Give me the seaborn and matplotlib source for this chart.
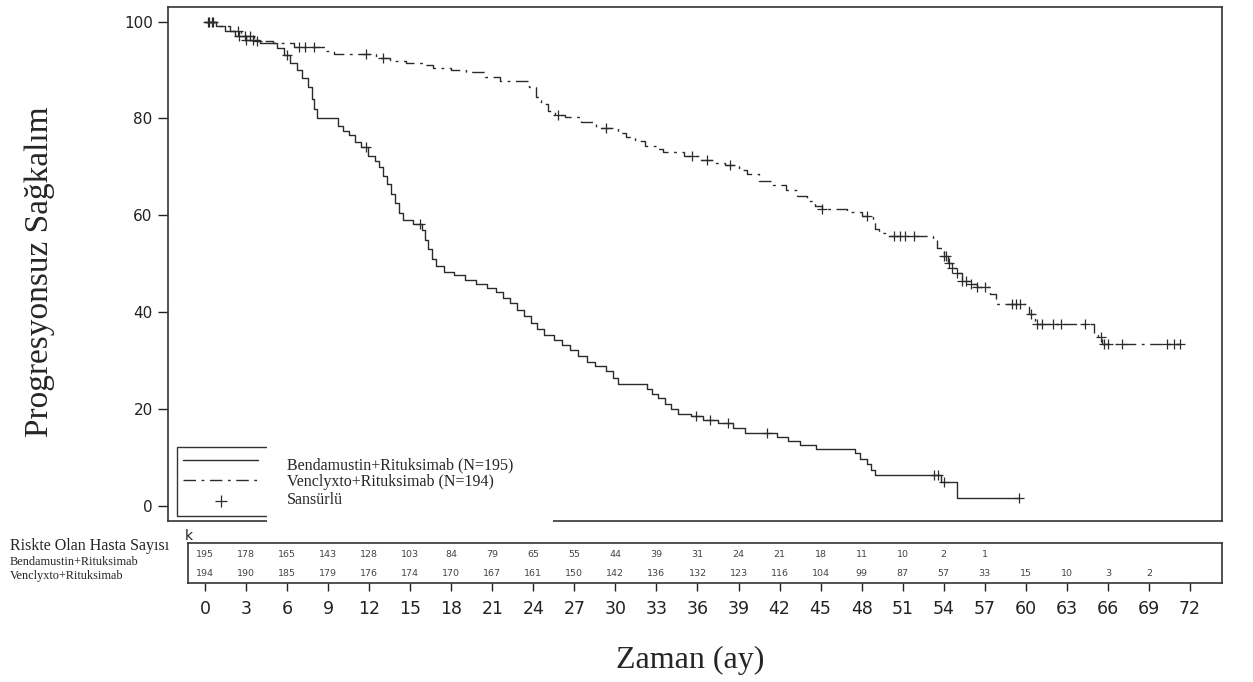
import numpy as np
import pandas as pd
import matplotlib
matplotlib.use("Agg")
import matplotlib.pyplot as plt
from matplotlib.lines import Line2D
from matplotlib.patches import Rectangle
import seaborn as sns

# Kaplan-Meier steps (time in months, PFS in %)
br_time = [0, 0.8, 1.5, 2.2, 3.0, 4.0, 5.3, 5.8, 6.2, 6.7, 7.1, 7.5, 7.8, 8.0, 8.2,
           9.7, 10.1, 10.5, 11.0, 11.4, 11.9, 12.4, 12.7, 13.0, 13.3, 13.6, 13.9, 14.2,
           14.5, 15.2, 15.9, 16.1, 16.3, 16.6, 16.9, 17.5, 18.2, 19.0, 19.8, 20.6, 21.3,
           21.8, 22.3, 22.8, 23.3, 23.8, 24.3, 24.8, 25.5, 26.1, 26.7, 27.3, 27.9, 28.5,
           29.3, 29.8, 30.2, 32.3, 32.7, 33.1, 33.6, 34.1, 34.6, 35.5, 36.4, 37.5, 38.6,
           39.5, 41.8, 42.6, 43.5, 44.7, 47.5, 47.9, 48.4, 48.7, 49.0, 53.8, 55.0]
br_surv = [100, 99, 98, 97, 96.2, 95.5, 94.5, 93, 91.5, 90, 88.4, 86.4, 84, 82, 80,
           78.5, 77.5, 76.5, 75.2, 74, 72.3, 71.2, 70.0, 68.2, 66.5, 64.5, 62.5, 60.5,
           59.0, 58.3, 57.0, 55, 53, 51, 49.5, 48.3, 47.6, 46.7, 45.8, 45.0, 44.2,
           43.0, 41.8, 40.5, 39.2, 37.8, 36.5, 35.2, 34.2, 33.3, 32.2, 31.0, 29.8, 28.8,
           27.8, 26.5, 25.1, 24.2, 23.2, 22.2, 21.0, 20.0, 19.0, 18.6, 17.8, 17.2, 16.2,
           15.0, 14.2, 13.4, 12.6, 11.7, 11.0, 9.8, 8.6, 7.5, 6.4, 5.0, 1.7]
br_cens = [0.3, 0.6, 2.5, 3.0, 3.5, 6.0, 11.8, 15.7, 35.9, 36.9, 38.2, 41.1,
           53.3, 53.6, 54.0, 59.5]

vr_time = [0, 1.0, 1.8, 2.6, 3.6, 5.0, 6.5, 8.8, 9.4, 12.5, 13.5, 14.7, 16.0, 16.7,
           18.0, 19.1, 20.5, 21.6, 23.7, 24.2, 24.6, 25.1, 25.6, 26.3, 27.5, 28.6, 30.2,
           30.8, 31.4, 32.2, 33.0, 33.5, 35.0, 36.2, 37.3, 38.0, 39.0, 39.6, 40.5, 41.5,
           42.5, 43.3, 44.0, 44.6, 45.1, 46.9, 48.0, 48.8, 49.0, 49.3, 49.8, 53.2, 53.5,
           54.0, 54.3, 54.6, 54.9, 55.3, 56.0, 56.4, 57.4, 57.8, 60.2, 60.7, 65.0, 65.3,
           65.6]
vr_surv = [100, 99, 98, 97, 96, 95.5, 94.7, 94.0, 93.3, 92.4, 91.9, 91.5, 91.0, 90.5,
           90.0, 89.5, 88.6, 87.8, 86.4, 84.5, 83.0, 81.6, 80.8, 80.2, 79.2, 78.1, 77.0,
           76.2, 75.4, 74.4, 73.6, 73.0, 72.3, 71.5, 70.9, 70.3, 69.4, 68.5, 67.1, 66.3,
           65.3, 64.0, 63.0, 62.0, 61.3, 60.6, 59.9, 58.5, 57.2, 56.4, 55.7, 55.0, 53.3,
           51.5, 50.2, 49.2, 48.0, 46.5, 45.8, 45.1, 43.7, 41.7, 39.6, 37.6, 35.5, 34.8,
           33.4]
vr_cens = [0.2, 0.5, 2.4, 2.9, 3.3, 3.8, 6.9, 7.3, 8.0, 11.8, 13.0, 25.8, 29.3, 35.6,
           36.7, 38.4, 45.1, 48.4, 50.4, 50.8, 51.2, 51.8, 54.0, 54.2, 54.4, 54.6, 55.0,
           55.3, 55.6, 56.0, 56.4, 57.0, 59.0, 59.3, 59.6, 60.4, 60.8, 61.2, 62.0, 62.6,
           64.3, 65.5, 65.7, 66.0, 67.0, 70.3, 70.8, 71.3]

risk_times = list(range(0, 73, 3))
br_risk = [195, 178, 165, 143, 128, 103, 84, 79, 65, 55, 44, 39, 31, 24, 21, 18, 11, 10, 2, 1]
vr_risk = [194, 190, 185, 179, 176, 174, 170, 167, 161, 150, 142, 136, 132, 123, 116, 104,
           99, 87, 57, 33, 15, 10, 3, 2]

labels = ["Bendamustin+Rituksimab (N=195)", "Venclyxto+Rituksimab (N=194)", "Sansürlü"]


def curve_df(t, s, cens):
    tt = list(t) + [max(cens)]
    ss = list(s) + [s[-1]]
    return pd.DataFrame({"t": tt, "s": ss})


def cens_df(t, s, cens):
    idx = np.searchsorted(t, cens, side="right") - 1
    return pd.DataFrame({"t": cens, "s": np.array(s)[idx]})


sns.set_style("white")
plt.rcParams["font.family"] = ["DejaVu Sans"]
serif = ["Liberation Serif", "DejaVu Serif"]
col = "#2b2b2b"

fig = plt.figure(figsize=(12.53, 6.82), dpi=100)
W, H = 1253, 682

# main KM axes
ax = fig.add_axes([168 / W, 1 - 521 / H, (1222 - 168) / W, (521 - 7) / H])
sns.lineplot(data=curve_df(br_time, br_surv, br_cens), x="t", y="s", ax=ax,
             drawstyle="steps-post", color=col, lw=1.0, estimator=None, sort=False)
sns.lineplot(data=curve_df(vr_time, vr_surv, vr_cens), x="t", y="s", ax=ax,
             drawstyle="steps-post", color=col, lw=1.0, estimator=None, sort=False)
ax.lines[-1].set_dashes([9, 4, 2, 4])
for t, s, c in [(br_time, br_surv, br_cens), (vr_time, vr_surv, vr_cens)]:
    d = cens_df(t, s, c)
    ax.plot(d["t"], d["s"], ls="none", marker="+", ms=6.5, mew=0.9, color=col)

ax.set_xlim(-2.7, 74.34)
ax.set_ylim(-3.1, 103)
ax.set_yticks([0, 20, 40, 60, 80, 100])
ax.set_xticks([])
ax.set_xlabel("")
ax.set_ylabel("")
ax.tick_params(axis="y", direction="out", length=7, width=1, pad=4,
               labelsize=11, colors="#222222", left=True)
for sp in ax.spines.values():
    sp.set_color("#333333")
    sp.set_linewidth(1.2)

# legend (handles only, text sits in a white box over it)
handles = [Line2D([], [], color=col, lw=1.0),
           Line2D([], [], color=col, lw=1.0, dashes=[9, 4, 2, 4]),
           Line2D([], [], ls="none", marker="+", ms=9, mew=0.9, color=col)]
leg = fig.legend(handles, [" ", " ", " "], loc="lower left",
                 bbox_to_anchor=(177 / W, 1 - 516 / H), bbox_transform=fig.transFigure,
                 fontsize=11.5, handlelength=4.7, labelspacing=0.35, borderpad=0.4,
                 borderaxespad=0, frameon=True, fancybox=False, framealpha=1)
leg.get_frame().set_edgecolor("#333333")
leg.get_frame().set_linewidth(1.0)
leg.set_zorder(4)

fig.patches.append(Rectangle((267 / W, 1 - 524 / H), (553 - 267) / W, (524 - 443) / H,
                             transform=fig.transFigure, facecolor="white",
                             edgecolor="none", zorder=5))
for lab, yp in zip(labels, [465, 482, 500]):
    fig.text(287 / W, 1 - yp / H, lab, family=serif, fontsize=11.5,
             va="center", ha="left", zorder=6)

# risk table
ax2 = fig.add_axes([188 / W, 1 - 583 / H, (1222 - 188) / W, 40 / H])
ax2.set_xlim((188 - 205) / 13.68, 74.34)
ax2.set_ylim(0, 1)
for t, n in zip(risk_times, br_risk):
    ax2.text(t, 0.72, str(n), ha="center", va="center", fontsize=6.8, color="#444444")
for t, n in zip(risk_times, vr_risk):
    ax2.text(t, 0.24, str(n), ha="center", va="center", fontsize=6.8, color="#444444")
ax2.set_yticks([])
ax2.set_xticks(risk_times)
ax2.set_xticklabels([str(t) for t in risk_times])
ax2.tick_params(axis="x", direction="out", length=6, width=1, pad=6,
                labelsize=12.5, colors="#222222", bottom=True)
for sp in ax2.spines.values():
    sp.set_color("#333333")
    sp.set_linewidth(1.2)
fig.text(189 / W, 1 - 536 / H, "k", fontsize=10, ha="center", va="center", color="#222222")

# left labels of risk table
fig.text(10 / W, 1 - 546 / H, "Riskte Olan Hasta Sayısı", family=serif, fontsize=11.5,
         va="center", ha="left")
fig.text(10 / W, 1 - 562 / H, "Bendamustin+Rituksimab", family=serif, fontsize=8.8,
         va="center", ha="left")
fig.text(10 / W, 1 - 576 / H, "Venclyxto+Rituksimab", family=serif, fontsize=8.8,
         va="center", ha="left")

# axis titles
fig.text(40 / W, 1 - 272 / H, "Progresyonsuz Sağkalım", family=serif, fontsize=24,
         rotation=90, va="center", ha="center")
fig.text(690 / W, 1 - 660 / H, "Zaman (ay)", family=serif, fontsize=23,
         va="center", ha="center")

fig.savefig("out.png", dpi=100)
